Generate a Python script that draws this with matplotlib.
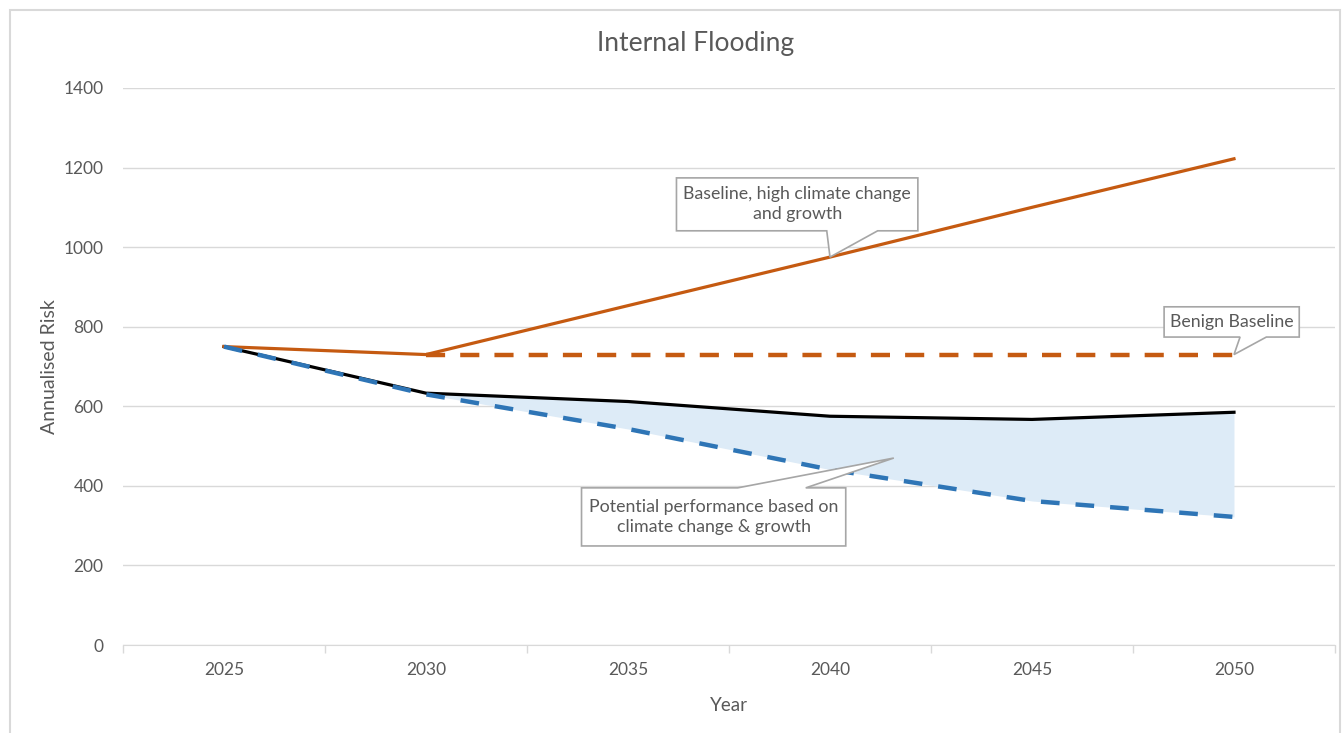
import numpy as np
import matplotlib.pyplot as plt
from matplotlib.patches import Polygon, Rectangle

years = ['2025', '2030', '2035', '2040', '2045', '2050']
high_baseline = [750, 730, 853, 975, 1100, 1222]
benign_baseline = [750, 730, 730, 730, 730, 730]
actual = [750, 633, 612, 575, 567, 585]
potential = [750, 630, 543, 441, 362, 322]

ORANGE = '#C55A11'
BLUE = '#2E75B6'
FILL = '#DDEBF7'
GRID = '#D9D9D9'
TXT = '#595959'

plt.rcParams['font.family'] = ['Lato', 'DejaVu Sans']

fig = plt.figure(figsize=(13.44, 7.33), dpi=100)
ax = fig.add_axes([0.0915, 0.120, 0.9018, 0.760])

x = np.arange(len(years))

# shaded band between actual and potential, from 2030 onwards
ax.fill_between(x[1:], actual[1:], potential[1:], color=FILL, lw=0, zorder=1)

ax.plot(x[1:], benign_baseline[1:], color=ORANGE, lw=3.2, dashes=(4.3, 3.4),
        solid_capstyle='butt', zorder=3)
ax.plot(x, high_baseline, color=ORANGE, lw=2.3, zorder=4)
ax.plot(x, actual, color='black', lw=2.3, zorder=3)
ax.plot(x, potential, color=BLUE, lw=3.2, dashes=(4.2, 3.6), zorder=4)

ax.set_xlim(-0.5, len(years) - 0.5)
ax.set_ylim(0, 1400)
ax.set_yticks(np.arange(0, 1401, 200))
ax.set_xticks(x)
ax.set_xticklabels(years)
ax.set_xticks(np.arange(-0.5, len(years), 1), minor=True)
ax.grid(axis='y', color=GRID, lw=1)
ax.set_axisbelow(True)
for s in ['top', 'right', 'left']:
    ax.spines[s].set_visible(False)
ax.spines['bottom'].set_color(GRID)
ax.tick_params(axis='x', which='major', length=0, pad=12, colors=TXT, labelsize=12.5)
ax.tick_params(axis='x', which='minor', length=6, color=GRID, width=1)
ax.tick_params(axis='y', length=0, pad=14, colors=TXT, labelsize=12.5)

fig.text(696 / 1344, 1 - 44 / 733, 'Internal Flooding', ha='center', va='center',
         fontsize=19, color=TXT)
ax.set_xlabel('Year', fontsize=13.5, color=TXT, labelpad=14)
ax.set_ylabel('Annualised Risk', fontsize=14, color=TXT, labelpad=4)


def callout(x0, x1, y0, y1, base, tip, edge, text):
    # box with a wedge pointer leaving from the top or bottom edge
    b0, b1 = base
    if edge == 'bottom':
        pts = [(x0, y1), (x1, y1), (x1, y0), (b1, y0), tip, (b0, y0), (x0, y0)]
    else:
        pts = [(x0, y0), (x1, y0), (x1, y1), (b1, y1), tip, (b0, y1), (x0, y1)]
    ax.add_patch(Polygon(pts, closed=True, fc='white', ec='#A6A6A6', lw=1.2,
                         zorder=6))
    ax.text((x0 + x1) / 2, (y0 + y1) / 2, text, ha='center', va='center',
            fontsize=12.8, color=TXT, linespacing=1.3, zorder=7)


callout(2.240, 3.435, 1041, 1174, (2.984, 3.236), (3, high_baseline[3]),
        'bottom', 'Baseline, high climate change\nand growth')
callout(4.654, 5.323, 774, 850, (5.03, 5.16), (5, benign_baseline[5]),
        'bottom', 'Benign Baseline')
callout(1.770, 3.078, 249, 395, (2.543, 2.880), (3.316, 470),
        'top', 'Potential performance based on\nclimate change & growth')

# chart border
fig.patches.append(Rectangle((10 / 1344, -0.05), 1330 / 1344, 1.05 - 10 / 733,
                             transform=fig.transFigure, fill=False,
                             ec=GRID, lw=1.5))

fig.savefig('out.png', dpi=100)
